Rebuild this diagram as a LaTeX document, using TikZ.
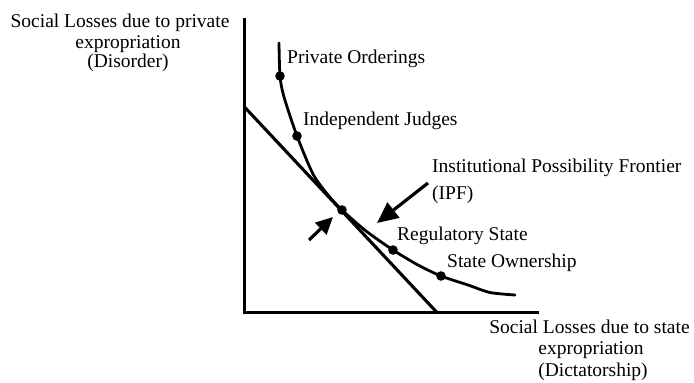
\documentclass[tikz,border=0pt]{standalone}
\usepackage{fontspec}
\setmainfont{Liberation Serif}
\usetikzlibrary{arrows.meta}
\begin{document}
\begin{tikzpicture}[x=1pt,y=-1pt,
  lbl/.style={inner sep=0pt,font=\fontsize{19.5}{22}\selectfont},
  axisline/.style={line width=3.3pt,line cap=rect},
  curveline/.style={line width=2.8pt,line cap=round,line join=round},
  tangentline/.style={line width=3.1pt},
  dotmark/.style={fill=black},
  bigarrow/.style={line width=3.2pt,-{Triangle[length=21pt,width=19pt]}},
  smallarrow/.style={line width=3.2pt,-{Triangle[length=17pt,width=16pt]}}]
\useasboundingbox (0,0) rectangle (694,383);
% axes
\coordinate (ytop) at (244.5,20);
\coordinate (origin) at (244.5,312.5);
\coordinate (xend) at (537,312.5);
\draw[axisline] (ytop) -- (origin) -- (xend);
% tangent line
\coordinate (lstart) at (244.5,107);
\coordinate (lend) at (437,312.5);
\draw[tangentline] (lstart) -- (lend);
% frontier curve
\coordinate (po) at (280,76);
\coordinate (ij) at (297,136);
\coordinate (tan) at (342,210);
\coordinate (rs) at (393,250);
\coordinate (so) at (441,276);
\draw[curveline] plot[smooth,tension=0.45] coordinates {(279,43) (280,76) (284,97) (297,136) (313,174) (328,195) (342,210) (366,231) (393,250) (418,265) (441,276) (468,285) (490,292.5) (515,295)};
\foreach \p in {po,ij,tan,rs,so} \fill[dotmark] (\p) circle[radius=4.8pt];
% arrows
\coordinate (ipftail) at (428,183);
\coordinate (ipftip) at (377,223);
\draw[bigarrow] (ipftail) -- (ipftip);
\coordinate (smtail) at (309,240);
\coordinate (smtip) at (333,217);
\draw[smallarrow] (smtail) -- (smtip);
% labels
\node[lbl,anchor=base west] (tpo) at (287,63) {Private Orderings};
\node[lbl,anchor=base west] (tij) at (303,125) {Independent Judges};
\node[lbl,anchor=base west] (tipf) at (432,172.5) {Institutional Possibility Frontier};
\node[lbl,anchor=base west] (tipf2) at (432,199) {(IPF)};
\node[lbl,anchor=base west] (trs) at (397,240) {Regulatory State};
\node[lbl,anchor=base west] (tso) at (447,267.5) {State Ownership};
% y axis label
\node[lbl,anchor=base] (ya) at (120,27) {Social Losses due to private};
\node[lbl,anchor=base] (yb) at (128,48) {expropriation};
\node[lbl,anchor=base] (yc) at (128,67) {(Disorder)};
% x axis label
\node[lbl,anchor=base] (xa) at (589.5,333) {Social Losses due to state};
\node[lbl,anchor=base] (xb) at (591,354) {expropriation};
\node[lbl,anchor=base] (xc) at (593,376.5) {(Dictatorship)};
\end{tikzpicture}
\end{document}
